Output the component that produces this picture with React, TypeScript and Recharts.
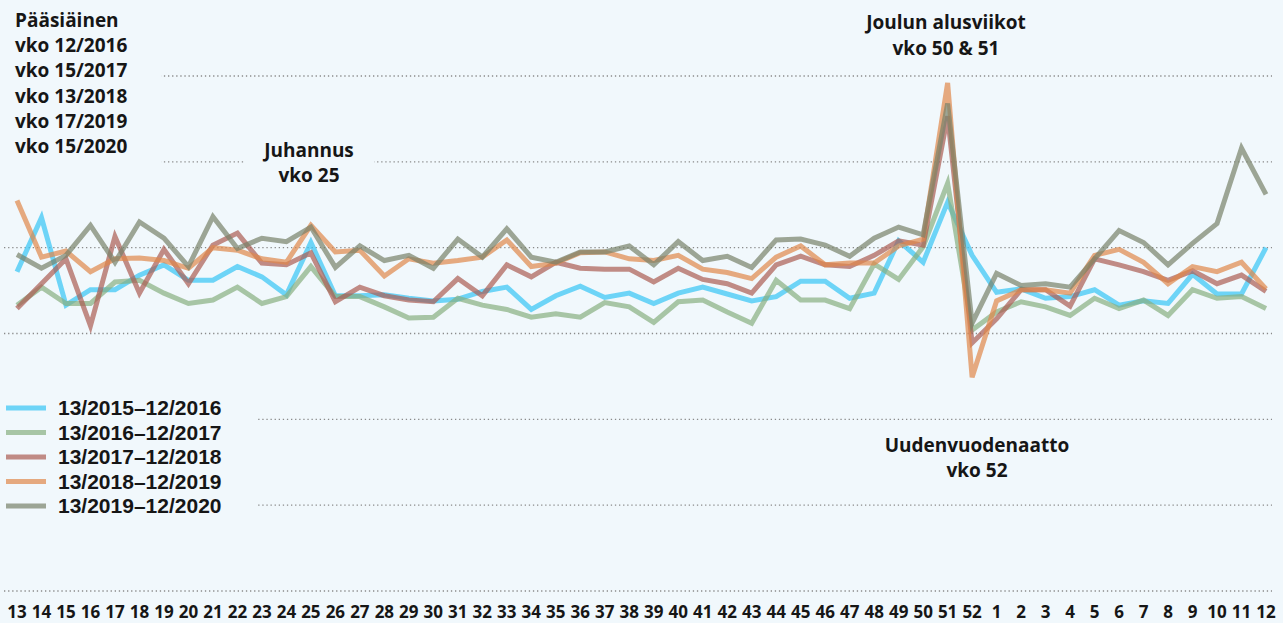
import React from 'react';
import { LineChart, Line, XAxis, YAxis, CartesianGrid } from 'recharts';

const weeks: string[] = [
  '13','14','15','16','17','18','19','20','21','22','23','24','25','26','27','28','29','30','31','32',
  '33','34','35','36','37','38','39','40','41','42','43','44','45','46','47','48','49','50','51','52',
  '1','2','3','4','5','6','7','8','9','10','11','12',
];

const s2015: number[] = [
  37.2, 43.5, 33.3, 35.1, 35.1, 36.8, 38.0, 36.2, 36.2, 37.8, 36.6, 34.5, 40.6, 34.4, 34.4, 34.5, 34.1, 33.8, 34.0, 34.9,
  35.4, 32.8, 34.4, 35.5, 34.2, 34.7, 33.5, 34.7, 35.4, 34.6, 33.8, 34.3, 36.1, 36.1, 34.1, 34.7, 40.8, 38.3, 45.3, 39.1,
  34.8, 35.2, 34.1, 34.3, 35.1, 33.3, 33.8, 33.5, 36.9, 34.6, 34.6, 40.0,
];
const s2016: number[] = [
  33.3, 35.4, 33.5, 33.5, 36.0, 36.2, 34.7, 33.5, 33.9, 35.4, 33.5, 34.3, 37.8, 34.3, 34.3, 33.1, 31.8, 31.9, 34.1, 33.3,
  32.8, 31.9, 32.3, 31.9, 33.6, 33.1, 31.3, 33.7, 33.9, 32.5, 31.2, 36.2, 33.9, 33.9, 32.9, 38.1, 36.3, 40.1, 47.5, 30.4,
  32.5, 33.7, 33.1, 32.1, 34.1, 32.9, 33.9, 32.1, 35.1, 34.1, 34.3, 32.9,
];
const s2017: number[] = [
  32.9, 35.8, 38.7, 30.9, 41.3, 34.7, 39.8, 35.8, 40.3, 41.7, 38.2, 38.0, 39.4, 33.7, 35.4, 34.4, 33.9, 33.7, 36.4, 34.4,
  38.0, 36.6, 38.3, 37.6, 37.5, 37.5, 36.0, 37.6, 36.3, 35.8, 34.7, 38.0, 39.0, 38.0, 37.8, 39.1, 40.8, 40.3, 55.3, 28.9,
  31.7, 35.1, 35.1, 33.2, 38.7, 38.0, 37.2, 36.2, 37.3, 35.8, 36.8, 34.9,
];
const s2018: number[] = [
  45.5, 38.9, 39.6, 37.2, 38.7, 38.8, 38.5, 37.6, 40.0, 39.7, 38.7, 38.3, 42.6, 39.5, 39.7, 36.7, 38.7, 38.2, 38.5, 38.9,
  40.9, 37.8, 38.2, 39.4, 39.5, 38.7, 38.5, 39.1, 37.5, 37.1, 36.4, 38.9, 40.2, 38.0, 38.2, 38.2, 40.2, 41.0, 59.2, 24.9,
  33.8, 35.1, 35.1, 34.7, 39.1, 39.8, 38.3, 35.8, 37.8, 37.2, 38.3, 35.2,
];
const s2019: number[] = [
  39.2, 37.6, 39.1, 42.6, 38.3, 43.0, 41.1, 37.8, 43.6, 39.9, 41.1, 40.7, 42.4, 37.7, 40.2, 38.5, 39.1, 37.6, 41.0, 38.9,
  42.2, 38.9, 38.3, 39.5, 39.5, 40.2, 38.0, 40.7, 38.5, 39.0, 37.7, 40.9, 41.0, 40.3, 39.0, 41.1, 42.4, 41.5, 56.8, 31.2,
  37.0, 35.6, 35.8, 35.4, 38.7, 42.0, 40.6, 38.0, 40.5, 42.8, 51.6, 46.2,
];

const seriesNames: string[] = [
  '13/2015–12/2016',
  '13/2016–12/2017',
  '13/2017–12/2018',
  '13/2018–12/2019',
  '13/2019–12/2020',
];
const seriesKeys: string[] = ['a', 'b', 'c', 'd', 'e'];
const seriesColors: string[] = ['#34C4F5', '#88AF80', '#AB5D52', '#E0884A', '#77816A'];
const yTicks: number[] = [0, 10, 20, 30, 40, 50, 60];

const easterLines: string[] = ['Pääsiäinen', 'vko 12/2016', 'vko 15/2017', 'vko 13/2018', 'vko 17/2019', 'vko 15/2020'];

const data = weeks.map((w, i) => ({
  week: w,
  a: s2015[i],
  b: s2016[i],
  c: s2017[i],
  d: s2018[i],
  e: s2019[i],
}));

const BG = '#F1F8FC';
const TXT = '#161616';
const FONT = '"Open Sans", sans-serif';

export default function App() {
  return (
    <div style={{ position: 'absolute', left: 0, top: 0, width: 1283, height: 623, background: BG, overflow: 'hidden' }}>
      <LineChart width={1283} height={623} data={data} margin={{ top: 76, right: 17, left: 17, bottom: 0 }}>
        <CartesianGrid
          vertical={false}
          x={4}
          width={1268}
          stroke="#8a8a8a"
          strokeWidth={1.3}
          strokeDasharray="1.3 2.8"
        />
        <XAxis
          dataKey="week"
          interval={0}
          tickLine={false}
          axisLine={false}
          height={32}
          tickMargin={9}
          tick={{ fontSize: 17, fontWeight: 700, fill: TXT, fontFamily: FONT }}
        />
        <YAxis hide domain={[0, 60]} ticks={yTicks} />
        {seriesKeys.map((k, i) => (
          <Line
            key={k}
            type="linear"
            dataKey={k}
            name={seriesNames[i]}
            stroke={seriesColors[i]}
            strokeOpacity={0.7}
            strokeWidth={5}
            dot={false}
            activeDot={false}
            isAnimationActive={false}
          />
        ))}
      </LineChart>
      <svg
        width={1283}
        height={623}
        style={{ position: 'absolute', left: 0, top: 0, pointerEvents: 'none' }}
      >
        <rect x={0} y={0} width={161} height={172} fill={BG} />
        <rect x={244} y={138} width={130} height={52} fill={BG} />
        <rect x={0} y={393} width={256} height={128} fill={BG} />
        <g fontFamily={FONT} fontWeight={700} fontSize={19} fill={TXT}>
          {easterLines.map((t, i) => (
            <text key={t} x={15} y={27 + 25.2 * i}>{t}</text>
          ))}
          <text x={309} y={157} textAnchor="middle">Juhannus</text>
          <text x={309} y={182} textAnchor="middle">vko 25</text>
          <text x={946} y={29} textAnchor="middle">Joulun alusviikot</text>
          <text x={946} y={54.5} textAnchor="middle">vko 50 &amp; 51</text>
          <text x={977} y={452} textAnchor="middle">Uudenvuodenaatto</text>
          <text x={977} y={476.5} textAnchor="middle">vko 52</text>
        </g>
        <g>
          {seriesNames.map((n, i) => (
            <g key={n}>
              <line
                x1={6}
                x2={46}
                y1={408 + 24.5 * i}
                y2={408 + 24.5 * i}
                stroke={seriesColors[i]}
                strokeOpacity={0.7}
                strokeWidth={5}
              />
              <text
                x={58}
                y={415 + 24.5 * i}
                fontFamily='"Liberation Sans", Arial, sans-serif'
                fontWeight={700}
                fontSize={21}
                fill={TXT}
              >
                {n}
              </text>
            </g>
          ))}
        </g>
      </svg>
    </div>
  );
}
